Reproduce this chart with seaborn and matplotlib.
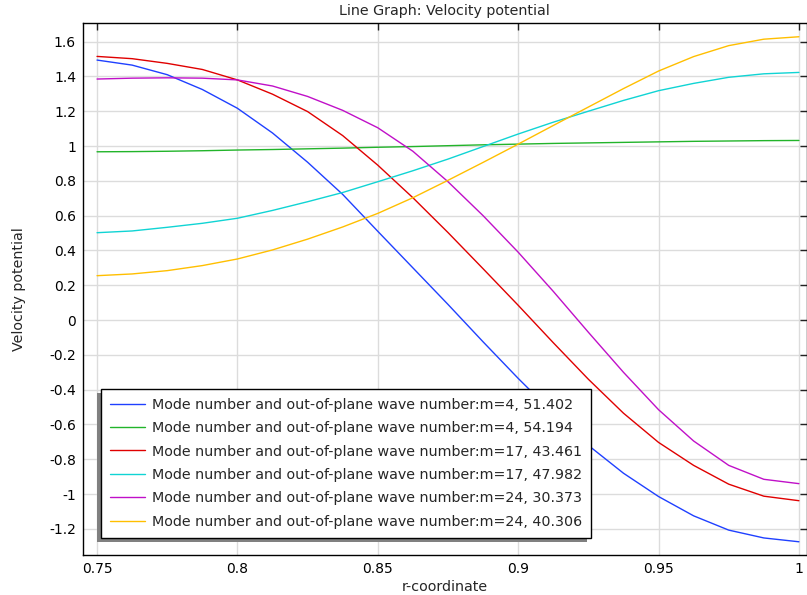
import matplotlib
matplotlib.use("Agg")
import matplotlib.pyplot as plt
import seaborn as sns
import pandas as pd
from matplotlib.patches import Rectangle
from matplotlib.transforms import IdentityTransform

r = [0.75, 0.7625, 0.775, 0.7875, 0.8, 0.8125, 0.825, 0.8375, 0.85, 0.8625, 0.875,
     0.8875, 0.9, 0.9125, 0.925, 0.9375, 0.95, 0.9625, 0.975, 0.9875, 1.0]

blue_m4_51 = [1.494, 1.465, 1.41, 1.325, 1.217, 1.075, 0.907, 0.722, 0.51, 0.30, 0.09,
              -0.125, -0.335, -0.535, -0.72, -0.88, -1.014, -1.125, -1.207, -1.252, -1.274]
green_m4_54 = [0.967, 0.968, 0.970, 0.973, 0.977, 0.980, 0.984, 0.988, 0.993, 0.997, 1.002,
               1.007, 1.011, 1.015, 1.018, 1.021, 1.024, 1.027, 1.029, 1.031, 1.032]
red_m17_43 = [1.515, 1.502, 1.475, 1.44, 1.38, 1.298, 1.198, 1.06, 0.89, 0.703, 0.503,
              0.295, 0.085, -0.13, -0.34, -0.535, -0.703, -0.835, -0.943, -1.012, -1.038]
cyan_m17_47 = [0.502, 0.512, 0.533, 0.556, 0.585, 0.63, 0.68, 0.733, 0.795, 0.858, 0.925,
               0.997, 1.069, 1.137, 1.2, 1.262, 1.318, 1.36, 1.395, 1.415, 1.423]
magenta_m24_30 = [1.385, 1.39, 1.392, 1.39, 1.38, 1.345, 1.285, 1.205, 1.105, 0.97, 0.795,
                  0.60, 0.39, 0.165, -0.07, -0.30, -0.515, -0.695, -0.835, -0.915, -0.94]
yellow_m24_40 = [0.255, 0.265, 0.284, 0.313, 0.351, 0.403, 0.465, 0.535, 0.613, 0.703, 0.803,
                 0.906, 1.011, 1.118, 1.224, 1.33, 1.431, 1.514, 1.577, 1.614, 1.628]

labels = [
    "Mode number and out-of-plane wave number:m=4, 51.402",
    "Mode number and out-of-plane wave number:m=4, 54.194",
    "Mode number and out-of-plane wave number:m=17, 43.461",
    "Mode number and out-of-plane wave number:m=17, 47.982",
    "Mode number and out-of-plane wave number:m=24, 30.373",
    "Mode number and out-of-plane wave number:m=24, 40.306",
]
series = [blue_m4_51, green_m4_54, red_m17_43, cyan_m17_47, magenta_m24_30, yellow_m24_40]
colors = ["#1f40ff", "#22b42a", "#e00000", "#10d4d4", "#c010c8", "#ffbf00"]

y_ticks = [-1.2, -1.0, -0.8, -0.6, -0.4, -0.2, 0.0, 0.2, 0.4, 0.6, 0.8, 1.0, 1.2, 1.4, 1.6]
x_ticks = [0.75, 0.8, 0.85, 0.9, 0.95, 1.0]

frames = []
for lab, vals in zip(labels, series):
    frames.append(pd.DataFrame({"r": r, "v": vals, "series": lab}))
df = pd.concat(frames, ignore_index=True)

sns.set_theme(style="white")
plt.rcParams['font.family'] = ['DejaVu Sans']

fig = plt.figure(figsize=(8.07, 5.95), dpi=100)
ax = fig.add_axes([83/807, 1 - 555/595, (806.5 - 83)/807, (555 - 23)/595])

sns.lineplot(data=df, x="r", y="v", hue="series", hue_order=labels,
             palette=colors, linewidth=1.0, ax=ax, legend=True, sort=False)

ax.set_xlim(0.745, 1.0027)
ax.set_ylim(-1.35, 1.707)
ax.set_xticks(x_ticks)
ax.set_xticklabels(["0.75", "0.8", "0.85", "0.9", "0.95", "1"])
ax.set_yticks(y_ticks)
ax.set_yticklabels([("%g" % t) for t in y_ticks])
ax.grid(True, color="#dcdcdc", linewidth=1.0)
ax.set_axisbelow(True)
for s in ax.spines.values():
    s.set_color("black")
    s.set_linewidth(1.0)
ax.tick_params(direction="in", length=5, width=1, color="#222222",
               top=True, right=True, labelsize=10, labelcolor="black", pad=5)

ax.set_title("Line Graph: Velocity potential", fontsize=10.3, pad=6)
ax.set_xlabel("r-coordinate", fontsize=10.3, labelpad=3)
ax.set_ylabel("Velocity potential", fontsize=10.3, labelpad=17)

leg = ax.legend(loc="lower left", bbox_to_anchor=(17.7/723.5, 17.3/532), fontsize=10.3,
                frameon=True, fancybox=False, edgecolor="black", framealpha=1,
                handlelength=2.45, handletextpad=0.5, labelspacing=0.66,
                borderpad=0.62, borderaxespad=0.0)
leg.get_frame().set_linewidth(1.0)
leg.set_zorder(6)

fig.canvas.draw()
bb = leg.get_window_extent()
shadow = Rectangle((bb.x0 - 4, bb.y0 - 4), bb.width, bb.height,
                   transform=IdentityTransform(), facecolor="#808080",
                   edgecolor="none", zorder=5.5, clip_on=False)
ax.add_patch(shadow)

fig.savefig("out.png", dpi=100)
